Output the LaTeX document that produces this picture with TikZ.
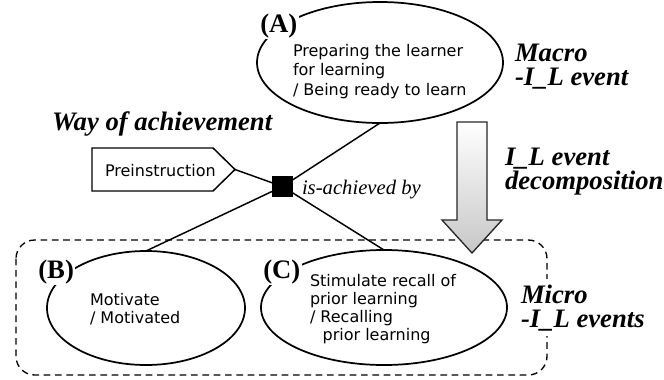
\documentclass[tikz,border=0pt]{standalone}
\usepackage{fontspec}
\setmainfont{Liberation Serif}
\setsansfont{DejaVu Sans}
\usetikzlibrary{shapes.geometric}

\begin{document}
\begin{tikzpicture}[x=0.75pt, y=-0.75pt,
  every node/.style={inner sep=0pt, outer sep=0pt},
  event/.style={draw, ellipse, line width=1.3pt},
  link/.style={line width=1.1pt},
  body/.style={anchor=base west, align=left,
    font=\sffamily\fontsize{12}{13.4}\selectfont},
  tag/.style={anchor=base west, fill=white, inner sep=1pt,
    font=\bfseries\fontsize{20}{24}\selectfont},
  caption/.style={anchor=base west, align=left,
    font=\bfseries\itshape\fontsize{20}{18}\selectfont},
  relation/.style={anchor=base west, font=\itshape\fontsize{15.5}{18}\selectfont},
]
\useasboundingbox (0,0) rectangle (664,379);

% boundary of the micro events
\draw[line width=1pt, dash pattern=on 5pt off 3.5pt, rounded corners=14pt]
  (16,240) rectangle (547,375);

% events
\node[event, minimum width=246*0.75pt, minimum height=121*0.75pt] (A) at (380,62.5) {};
\node[event, minimum width=198*0.75pt, minimum height=114*0.75pt] (B) at (146,308) {};
\node[event, minimum width=246*0.75pt, minimum height=115*0.75pt] (C) at (384,307.5) {};

% way of achievement
\coordinate (hub) at (282.5,186.5);
\coordinate (pretip) at (235,169.5);
\draw[link] (92,148) -- (213,148) -- (pretip) -- (213,191) -- (92,191) -- cycle;
\draw[link] (pretip) -- (hub) (hub) -- (A.south) (hub) -- (B.north) (hub) -- (C.north);
\node[fill=black, minimum size=21*0.75pt] (sq) at (hub) {};

% decomposition arrow
\shade[top color=white, bottom color=black!22, draw=black!85, line width=1pt]
  (457,122) -- (487,122) -- (487,220) -- (502,220) -- (472,253)
  -- (442,220) -- (457,220) -- cycle;

% labels (multi-line texts are placed by the baseline of their last line)
\node[tag] (tA) at (259,32) {(A)};
\node[tag] (tB) at (37,278) {(B)};
\node[tag] (tC) at (262,278) {(C)};

\node[body, font=\sffamily\fontsize{12}{14.6}\selectfont] (xA) at (293,95)
  {Preparing the learner\\for learning\\/ Being ready to learn};
\node[body] (xB) at (90,323) {Motivate\\/ Motivated};
\node[body] (xC) at (310,340)
  {Stimulate recall of\\prior learning\\/ Recalling\\\hspace*{9.5pt}prior learning};
\node[body] (xP) at (105,176) {Preinstruction};

\node[relation] (rel) at (302,194.5) {is-achieved by};
\node[caption] (way) at (52,130) {Way of achievement};
\node[caption, font=\bfseries\itshape\fontsize{20}{17.3}\selectfont] (macro) at (515,85)
  {Macro\\-I\_L event};
\node[caption] (dec) at (505,189) {I\_L event\\decomposition};
\node[caption, fill=white, inner ysep=4pt] (micro) at (521,327) {Micro\\-I\_L events};

\end{tikzpicture}
\end{document}
